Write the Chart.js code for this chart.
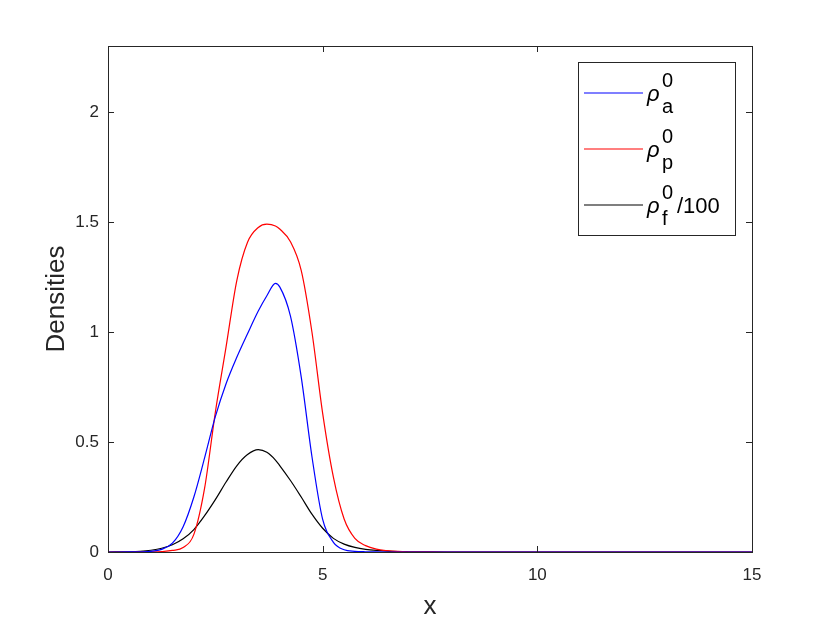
<!DOCTYPE html>
<html>
<head>
<meta charset="utf-8">
<script src="https://cdn.jsdelivr.net/npm/chart.js@4.4.0/dist/chart.umd.min.js"></script>
<style>
  html, body { margin: 0; padding: 0; background: #fff; }
  #wrap { width: 830px; height: 623px; }
</style>
</head>
<body>
<div id="wrap"><canvas id="densities_chart" width="830" height="623"></canvas></div>
<script>
// x positions and the three density curves
var xs    = [0, 0.5, 0.75, 1, 1.25, 1.5, 1.75, 2, 2.25, 2.5, 2.75, 3, 3.25, 3.5, 3.7, 3.9, 4,
             4.25, 4.5, 4.75, 5, 5.25, 5.5, 5.75, 6, 6.25, 6.5, 6.75, 7, 7.5, 8, 15];
var rhoA  = [0, 0.0003, 0.001, 0.003, 0.012, 0.040, 0.115, 0.250, 0.428, 0.615, 0.765, 0.885, 0.992, 1.095, 1.165, 1.221, 1.205,
             1.072, 0.796, 0.434, 0.148, 0.044, 0.010, 0.003, 0.001, 0.0003, 0, 0, 0, 0, 0, 0];
var rhoP  = [0, 0, 0.0002, 0.0005, 0.002, 0.007, 0.020, 0.080, 0.290, 0.635, 0.932, 1.234, 1.408, 1.475, 1.490, 1.482, 1.468,
             1.410, 1.280, 1.000, 0.630, 0.340, 0.150, 0.062, 0.029, 0.013, 0.006, 0.0025, 0.001, 0.0002, 0, 0];
var rhoF  = [0, 0.001, 0.003, 0.008, 0.017, 0.033, 0.060, 0.102, 0.165, 0.238, 0.318, 0.392, 0.443, 0.465, 0.453, 0.418, 0.393,
             0.325, 0.250, 0.172, 0.108, 0.062, 0.036, 0.021, 0.012, 0.007, 0.004, 0.002, 0.0012, 0.0003, 0, 0];

var seriesColors = ['#0000ff', '#ff0000', '#000000'];
var seriesSub    = ['a', 'p', 'f'];
var seriesSuffix = ['', '', '/100'];

var xTicks = [0, 5, 10, 15];
var yTicks = [0, 0.5, 1, 1.5, 2];

var axisColor = '#262626';
var fontFamily = "'Liberation Sans', Arial, Helvetica, sans-serif";

function points(ys) {
  var out = [];
  for (var i = 0; i < xs.length; i++) {
    out.push({x: xs[i], y: ys[i]});
  }
  return out;
}

// MATLAB style box with inward ticks on all four sides
var matlabBox = {
  id: 'matlabBox',
  afterDraw: function(chart) {
    var ctx = chart.ctx, a = chart.chartArea;
    var sx = chart.scales.x, sy = chart.scales.y;
    var len = 6;
    ctx.save();
    ctx.strokeStyle = axisColor;
    ctx.lineWidth = 1;
    ctx.beginPath();
    xTicks.forEach(function(v) {
      var px = Math.round(sx.getPixelForValue(v)) + 0.5;
      ctx.moveTo(px, a.bottom); ctx.lineTo(px, a.bottom - len);
      ctx.moveTo(px, a.top); ctx.lineTo(px, a.top + len);
    });
    yTicks.forEach(function(v) {
      var py = Math.round(sy.getPixelForValue(v)) + 0.5;
      ctx.moveTo(a.left, py); ctx.lineTo(a.left + len, py);
      ctx.moveTo(a.right, py); ctx.lineTo(a.right - len, py);
    });
    ctx.stroke();
    ctx.strokeRect(Math.round(a.left) + 0.5, Math.round(a.top) + 0.5,
                   Math.round(a.right - a.left), Math.round(a.bottom - a.top));
    ctx.restore();
  }
};

// legend with TeX-like sub/superscripts
var texLegend = {
  id: 'texLegend',
  afterDraw: function(chart) {
    var ctx = chart.ctx;
    var bx = 578.5, by = 62.5, bw = 157, bh = 173;
    ctx.save();
    ctx.fillStyle = '#ffffff';
    ctx.fillRect(bx, by, bw, bh);
    ctx.strokeStyle = axisColor;
    ctx.lineWidth = 1;
    ctx.strokeRect(bx, by, bw, bh);
    ctx.textAlign = 'left';
    ctx.textBaseline = 'alphabetic';
    for (var i = 0; i < seriesColors.length; i++) {
      var ly = 93 + i * 56;
      ctx.strokeStyle = seriesColors[i];
      ctx.lineWidth = 1.2;
      ctx.beginPath();
      ctx.moveTo(584, ly);
      ctx.lineTo(643, ly);
      ctx.stroke();
      var base = ly + 8;
      ctx.fillStyle = '#000000';
      ctx.font = 'italic 22px ' + fontFamily;
      ctx.fillText('\u03c1', 647, base);
      ctx.font = '20px ' + fontFamily;
      ctx.fillText('0', 662, base - 14);
      ctx.fillText(seriesSub[i], 662, base + 12);
      if (seriesSuffix[i]) {
        ctx.font = '22px ' + fontFamily;
        ctx.fillText(seriesSuffix[i], 677, base);
      }
    }
    ctx.restore();
  }
};

var datasets = [rhoA, rhoP, rhoF].map(function(ys, i) {
  return {
    label: 'rho_' + seriesSub[i] + '^0' + seriesSuffix[i],
    data: points(ys),
    borderColor: seriesColors[i],
    borderWidth: 1.2,
    pointRadius: 0,
    fill: false,
    cubicInterpolationMode: 'monotone'
  };
});

var ctx = document.getElementById('densities_chart');
var densityChart = new Chart(ctx, {
  type: 'line',
  data: { datasets: datasets },
  options: {
    responsive: false,
    animation: false,
    devicePixelRatio: 1,
    layout: { padding: { left: 0, right: 78, top: 46, bottom: 0 } },
    plugins: {
      legend: { display: false },
      tooltip: { enabled: false }
    },
    scales: {
      x: {
        type: 'linear',
        min: 0,
        max: 15,
        afterBuildTicks: function(s) { s.ticks = xTicks.map(function(v) { return {value: v}; }); },
        afterFit: function(s) { s.height = 71; },
        grid: { display: false, drawTicks: false },
        border: { display: false },
        ticks: { padding: 13, color: axisColor, font: { family: fontFamily, size: 17 }, maxRotation: 0,
                 callback: function(v) { return String(v); } },
        title: { display: true, text: 'x', color: axisColor, font: { family: fontFamily, size: 26 }, padding: { top: 0, bottom: 1 } }
      },
      y: {
        type: 'linear',
        min: 0,
        max: 2.3,
        afterBuildTicks: function(s) { s.ticks = yTicks.map(function(v) { return {value: v}; }); },
        afterFit: function(s) { s.width = 108; },
        grid: { display: false, drawTicks: false },
        border: { display: false },
        ticks: { padding: 9, color: axisColor, font: { family: fontFamily, size: 17 },
                 callback: function(v) { return String(v); } },
        title: { display: true, text: 'Densities', color: axisColor, font: { family: fontFamily, size: 26 }, padding: { top: 41, bottom: 0 } }
      }
    }
  },
  plugins: [matlabBox, texLegend]
});
</script>
</body>
</html>
